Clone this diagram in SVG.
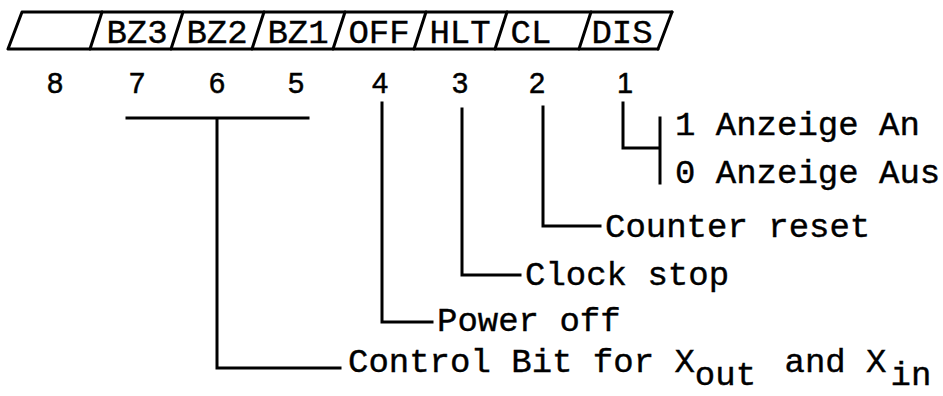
<svg xmlns="http://www.w3.org/2000/svg" width="943" height="396" viewBox="0 0 943 396">
<style>
.bar{fill:none;stroke:#000;stroke-width:3;stroke-linejoin:round;stroke-linecap:round}
.ln{fill:none;stroke:#000;stroke-width:3;stroke-linecap:square}
.tw{font-family:"Liberation Mono","Courier New",monospace;font-size:34px;fill:#000;stroke:#000;stroke-width:0.4}
.fd{font-family:"Liberation Mono","Courier New",monospace;font-size:34px;fill:#000;stroke:#000;stroke-width:0.4;text-anchor:middle}
.dg{font-family:"Liberation Sans",Arial,sans-serif;font-size:29px;fill:#000;stroke:#000;stroke-width:0.5;text-anchor:middle}
</style>
<rect width="943" height="396" fill="#fff"/>
<g id="register">
<path class="bar" d="M22,12 L672,12 M8,49 L658,49 M8,49 L22,12"/>
<path class="bar" d="M90,49 L102,12 M171,49 L183,12 M252,49 L264,12 M333,49 L345,12 M414,49 L426,12 M495,49 L507,12 M579,49 L591,12 M658,49 L672,12"/>
<text class="fd" x="137" y="43">BZ3</text>
<text class="fd" x="217" y="43">BZ2</text>
<text class="fd" x="298" y="43">BZ1</text>
<text class="fd" x="379" y="43">OFF</text>
<text class="fd" x="460" y="43">HLT</text>
<text class="fd" x="531" y="43">CL</text>
<text class="fd" x="622" y="43">DIS</text>
</g>
<g id="bitnumbers">
<text class="dg" x="55" y="93">8</text>
<text class="dg" x="137" y="93">7</text>
<text class="dg" x="217" y="93">6</text>
<text class="dg" x="296" y="93">5</text>
<text class="dg" x="380" y="93">4</text>
<text class="dg" x="460" y="93">3</text>
<text class="dg" x="537" y="93">2</text>
<text class="dg" x="625" y="93">1</text>
</g>
<g id="connectors">
<path class="ln" d="M127,118 L308,118 M217,118 L217,368 L340,368"/>
<path class="ln" d="M382,103 L382,322 L432,322"/>
<path class="ln" d="M462,109 L462,275 L520,275"/>
<path class="ln" d="M543,107 L543,226 L600,226"/>
<path class="ln" d="M623,103 L623,148 L660,148 M660,118 L660,183"/>
</g>
<g id="label-dis">
<text class="tw" x="675" y="135">1 Anzeige An</text>
<text class="tw" x="675" y="183">0 Anzeige Aus</text>
</g>
<g id="label-cl"><text class="tw" x="605" y="237">Counter reset</text></g>
<g id="label-hlt"><text class="tw" x="525" y="285">Clock stop</text></g>
<g id="label-off"><text class="tw" x="437" y="331">Power off</text></g>
<g id="label-bz"><text class="tw" x="348" y="372">Control Bit for X<tspan dy="13">out</tspan><tspan dy="-13" dx="8"> and X</tspan><tspan dy="13" dx="4">in</tspan></text></g>
</svg>
